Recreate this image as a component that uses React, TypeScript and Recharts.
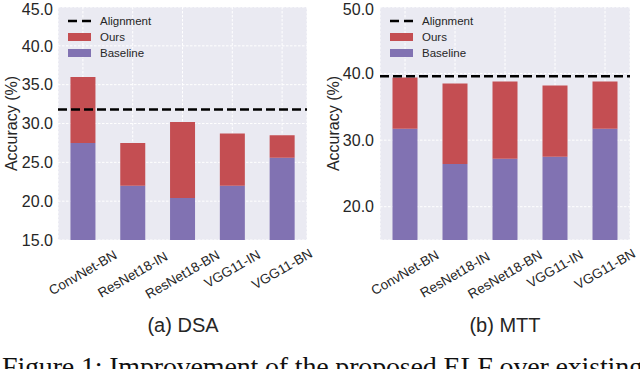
import { BarChart, Bar, XAxis, YAxis, CartesianGrid, ReferenceLine, Legend } from 'recharts'

const models = ['ConvNet-BN', 'ResNet18-IN', 'ResNet18-BN', 'VGG11-IN', 'VGG11-BN']

// (a) DSA
const dsaBaseline = [27.5, 22.0, 20.4, 22.0, 25.6]
const dsaOurs = [36.0, 27.5, 30.2, 28.7, 28.5]
const dsaAlignment = 31.8
const dsaTicks = [15, 20, 25, 30, 35, 40, 45]

// (b) MTT
const mttBaseline = [31.7, 26.4, 27.2, 27.5, 31.7]
const mttOurs = [39.4, 38.5, 38.8, 38.2, 38.8]
const mttAlignment = 39.6
const mttTicks = [20, 30, 40, 50]

const RED = '#C44E52'
const PURPLE = '#8172B2'
const TEXT = '#262626'
const FONT = '"Liberation Sans", Arial, sans-serif'

const ModelTick = ({ x, y, payload }: any) => {
  const label: string = payload.value
  // rotated labels are top-aligned under the axis, like matplotlib's va='top'
  const len = label.length * 0.56 * 13.5
  const boxH = len * 0.5 + 13.5 * 0.866
  const cy = y + 8 + boxH / 2
  return (
    <g transform={`translate(${x},${cy})`}>
      <text
        transform="rotate(-30)"
        textAnchor="middle"
        dominantBaseline="central"
        fontSize={13.5}
        fill={TEXT}
        fontFamily={FONT}
      >
        {label}
      </text>
    </g>
  )
}

const legendItems = [
  { name: 'Alignment', kind: 'line', color: '#000' },
  { name: 'Ours', kind: 'rect', color: RED },
  { name: 'Baseline', kind: 'rect', color: PURPLE },
]

const LegendContent = () => (
  <div style={{ fontFamily: FONT, fontSize: 11.5, color: TEXT }}>
    {legendItems.map(item => (
      <div key={item.name} style={{ display: 'flex', alignItems: 'center', height: 16 }}>
        <svg width={23} height={10} style={{ marginRight: 9 }}>
          {item.kind === 'line' ? (
            <line x1={0} y1={5} x2={23} y2={5} stroke={item.color} strokeWidth={2.5} strokeDasharray="9 5" />
          ) : (
            <rect x={0} y={1} width={23} height={8} fill={item.color} />
          )}
        </svg>
        <span>{item.name}</span>
      </div>
    ))}
  </div>
)

interface PanelProps {
  baseline: number[]
  ours: number[]
  alignment: number
  domain: [number, number]
  ticks: number[]
  yWidth: number
  rightMargin: number
  tickMargin: number
}

function Panel({ baseline, ours, alignment, domain, ticks, yWidth, rightMargin, tickMargin }: PanelProps) {
  const data = models.map((model, i) => ({
    model,
    baseline: baseline[i],
    gain: Number((ours[i] - baseline[i]).toFixed(2)),
  }))

  return (
    <BarChart
      width={320}
      height={300}
      data={data}
      margin={{ top: 7, right: rightMargin, left: 0, bottom: 0 }}
      barCategoryGap="25%"
    >
      <CartesianGrid fill="#EAEAF2" fillOpacity={1} stroke="#ffffff" strokeDasharray="2.5 1.5" />
      <XAxis
        dataKey="model"
        interval={0}
        tickLine={false}
        axisLine={false}
        tickSize={0}
        tickMargin={0}
        height={60}
        tick={<ModelTick />}
      />
      <YAxis
        type="number"
        domain={domain}
        ticks={ticks}
        allowDataOverflow
        width={yWidth}
        tickLine={false}
        axisLine={false}
        tickSize={0}
        tickMargin={tickMargin}
        tickFormatter={(v: number) => v.toFixed(1)}
        tick={{ fontSize: 16, fill: TEXT, fontFamily: FONT }}
      />
      <Legend
        layout="vertical"
        align="center"
        verticalAlign="middle"
        content={<LegendContent />}
        wrapperStyle={{ left: yWidth + 10, top: 13, width: 'auto' }}
      />
      <Bar dataKey="baseline" stackId="a" fill={PURPLE} isAnimationActive={false} />
      <Bar dataKey="gain" stackId="a" fill={RED} isAnimationActive={false} />
      <ReferenceLine y={alignment} stroke="#000" strokeWidth={2.5} strokeDasharray="9 4" />
    </BarChart>
  )
}

export default function App() {
  return (
    <div
      style={{
        position: 'absolute',
        left: 0,
        top: 0,
        width: 640,
        height: 369,
        overflow: 'hidden',
        background: '#fff',
      }}
    >
      <div style={{ position: 'absolute', left: 0, top: 0 }}>
        <Panel
          baseline={dsaBaseline}
          ours={dsaOurs}
          alignment={dsaAlignment}
          domain={[15, 45]}
          ticks={dsaTicks}
          yWidth={58}
          rightMargin={13}
          tickMargin={5}
        />
      </div>
      <div style={{ position: 'absolute', left: 320, top: 0 }}>
        <Panel
          baseline={mttBaseline}
          ours={mttOurs}
          alignment={mttAlignment}
          domain={[15, 50]}
          ticks={mttTicks}
          yWidth={60}
          rightMargin={10}
          tickMargin={6}
        />
      </div>
      <svg
        width={640}
        height={369}
        style={{ position: 'absolute', left: 0, top: 0, pointerEvents: 'none' }}
      >
        <text
          transform="translate(11,123.5) rotate(-90)"
          textAnchor="middle"
          dominantBaseline="central"
          fontSize={16}
          fill={TEXT}
          fontFamily={FONT}
        >
          Accuracy (%)
        </text>
        <text
          transform="translate(333,123.5) rotate(-90)"
          textAnchor="middle"
          dominantBaseline="central"
          fontSize={16}
          fill={TEXT}
          fontFamily={FONT}
        >
          Accuracy (%)
        </text>
        <text x={183} y={332} textAnchor="middle" fontSize={20} fill={TEXT} fontFamily={FONT}>
          (a) DSA
        </text>
        <text x={505} y={332} textAnchor="middle" fontSize={20} fill={TEXT} fontFamily={FONT}>
          (b) MTT
        </text>
        <text
          x={2}
          y={375.5}
          fontSize={28}
          fill="#111"
          fontFamily='"Liberation Serif", "Times New Roman", serif'
          textLength={641}
          lengthAdjust="spacing"
        >
          Figure 1: Improvement of the proposed ELF over existing
        </text>
      </svg>
    </div>
  )
}
